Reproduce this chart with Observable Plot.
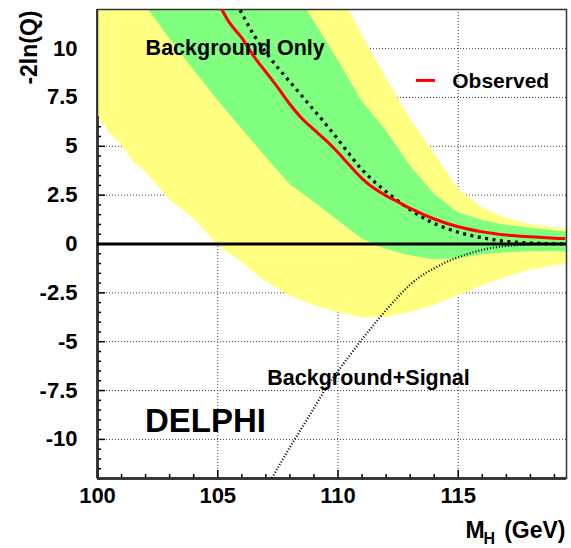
<!DOCTYPE html>
<html><head><meta charset="utf-8">
<script src="https://cdn.jsdelivr.net/npm/d3@7"></script>
<script src="https://cdn.jsdelivr.net/npm/@observablehq/plot@0.6"></script>
<style>
html,body{margin:0;padding:0;background:#fff;}
</style></head><body><div id="chart"></div>
<script>
// ---- data ----
const bandMass   = [100,100.5,101,101.5,102,102.5,103,104,105,105.5,106,107,108,109,110,110.5,111,112,113,114,115,116,117,118,119,119.5];
const yellowLow  = [6.6,5.7,5.05,4.2,3.7,3.0,2.25,1.3,-0.05,-0.5,-0.95,-1.95,-2.65,-3.15,-3.5,-3.65,-3.8,-3.75,-3.5,-3.15,-2.65,-2.15,-1.7,-1.34,-1.12,-1.05];
const yellowHigh = [34,33,32,31,30,29,28,26,24,23,22,19.9,17.6,15.3,13.0,11.85,10.7,8.5,6.4,4.65,2.8,1.85,1.3,0.98,0.82,0.78];
const greenLow   = [15.5,14.6,13.8,13.0,12.2,11.35,10.5,8.9,7.35,6.62,5.9,4.45,3.05,2.15,1.2,0.72,0.25,-0.28,-0.6,-0.8,-0.75,-0.55,-0.45,-0.4,-0.38,-0.38];
const greenHigh  = [26,25.2,24.5,23.7,23,22.2,21.5,20,18.5,17.8,17,15.4,13.4,11.4,9.4,8.35,7.3,5.8,4.0,2.55,1.6,1.2,0.95,0.8,0.68,0.62];

const obsMass  = [105,105.5,106,106.5,107,107.5,108,108.5,109,109.5,110,110.5,111,111.5,112,112.5,113,114,115,116,117,118,119,119.4];
const obsValue = [12.4,11.3,10.55,9.6,8.8,8.0,7.15,6.42,5.85,5.3,4.68,4.0,3.35,2.85,2.47,2.15,1.82,1.28,0.88,0.62,0.46,0.37,0.3,0.28];

const expMass  = [105.5,106,106.5,107,107.5,108,108.5,109,109.5,110,110.5,111,111.5,112,112.5,113,113.5,114,115,116,117,118,119,119.5];
const expValue = [13.0,11.8,10.7,9.8,9.02,8.3,7.57,6.85,6.12,5.35,4.55,3.8,3.2,2.68,2.2,1.75,1.37,1.05,0.6,0.32,0.13,0.05,0.01,0];

const sigMass  = [107,107.5,108,108.5,109,109.5,110,110.5,111,111.5,112,112.5,113,113.5,114,114.5,115,116,117,118,119,119.5];
const sigValue = [-12.5,-11.45,-10.4,-9.4,-8.4,-7.38,-6.5,-5.68,-4.87,-4.12,-3.38,-2.7,-2.08,-1.6,-1.24,-0.93,-0.68,-0.3,-0.1,-0.03,0,0];

const xTicks = [100,105,110,115];
const xMinor = [101,102,103,104,106,107,108,109,111,112,113,114,116,117,118,119];
const yTicks = [-10,-7.5,-5,-2.5,0,2.5,5,7.5,10];
const yMinor = d3.range(-11.5, 12, 0.5).filter(v => !yTicks.includes(v));
const xGrid = [105,110,115];
const yGrid = [-10,-7.5,-5,-2.5,2.5,5,7.5,10];

// ---- layout ----
const W = 571, H = 548;
const mL = 97, mR = 5, mT = 9, mB = 70;
const plotW = W - mL - mR, plotH = H - mT - mB;

const bands = bandMass.map((m, i) => ({m, yl: yellowLow[i], yh: yellowHigh[i], gl: greenLow[i], gh: greenHigh[i]}));
const obs = obsMass.map((m, i) => ({m, v: obsValue[i]}));
const exp = expMass.map((m, i) => ({m, v: expValue[i]}));
const sig = sigMass.map((m, i) => ({m, v: sigValue[i]}));

const font = "'Liberation Sans', Arial, Helvetica, sans-serif";

const chart = Plot.plot({
  width: W, height: H,
  marginLeft: mL, marginRight: mR, marginTop: mT, marginBottom: mB,
  style: {fontFamily: font, fontWeight: "bold", fontSize: "22px", background: "white", color: "black"},
  x: {domain: [100, 119.5], ticks: xTicks, tickSize: 0, tickPadding: 9, tickFormat: d => String(d), label: null},
  y: {domain: [-12, 12], ticks: yTicks, tickSize: 0, tickPadding: 20, tickFormat: d => String(d), label: null},
  marks: [
    // dotted grid
    Plot.ruleX(xGrid, {stroke: "#000", strokeOpacity: 0.75, strokeWidth: 1, strokeDasharray: "1,2"}),
    Plot.ruleY(yGrid, {stroke: "#000", strokeOpacity: 0.75, strokeWidth: 1, strokeDasharray: "1,2"}),
    // axis lines and inward ticks
    Plot.ruleX([100], {stroke: "#000", strokeWidth: 2.5}),
    Plot.ruleY([-12], {stroke: "#000", strokeWidth: 2.5}),
    Plot.tickX(xTicks, {x: d => d, insetTop: plotH - 8, stroke: "#000", strokeWidth: 1.5}),
    Plot.tickX(xMinor, {x: d => d, insetTop: plotH - 4, stroke: "#000", strokeWidth: 1.5}),
    Plot.tickY(yTicks, {y: d => d, insetRight: plotW - 8, stroke: "#000", strokeWidth: 1.5}),
    Plot.tickY(yMinor, {y: d => d, insetRight: plotW - 4, stroke: "#000", strokeWidth: 1.5}),
    // bands
    Plot.areaY(bands, {x: "m", y1: "yl", y2: "yh", fill: "#ffff80", clip: true}),
    Plot.areaY(bands, {x: "m", y1: "gl", y2: "gh", fill: "#80ff80", clip: true}),
    Plot.frame({stroke: "#333", strokeWidth: 1.5}),
    Plot.ruleY([0], {stroke: "#000", strokeWidth: 3}),
    // curves
    Plot.line(sig, {x: "m", y: "v", stroke: "#000", strokeWidth: 2.2, strokeDasharray: "1,2", strokeLinecap: "butt", curve: "catmull-rom", clip: true}),
    Plot.line(exp, {x: "m", y: "v", stroke: "#000", strokeWidth: 3.2, strokeDasharray: "3,4.5", strokeLinecap: "butt", curve: "catmull-rom", clip: true}),
    Plot.line(obs, {x: "m", y: "v", stroke: "#ff0000", strokeWidth: 3, curve: "catmull-rom", clip: true}),
    // legend
    Plot.ruleY([8.37], {x1: 113.26, x2: 114.05, stroke: "#ff0000", strokeWidth: 3}),
    Plot.text(["Observed"], {x: 114.75, y: 7.99, text: d => d, textAnchor: "start", lineAnchor: "bottom", fontSize: 21, fontWeight: "bold", fill: "#000"}),
    // annotations
    Plot.text(["Background Only"], {x: 102.0, y: 9.65, text: d => d, textAnchor: "start", lineAnchor: "bottom", fontSize: 21.5, fontWeight: "bold", fill: "#000"}),
    Plot.text(["Background+Signal"], {x: 107.06, y: -7.2, text: d => d, textAnchor: "start", lineAnchor: "bottom", fontSize: 21.5, fontWeight: "bold", fill: "#000"}),
    Plot.text(["DELPHI"], {x: 101.97, y: -9.63, text: d => d, textAnchor: "start", lineAnchor: "bottom", fontSize: 33, fontWeight: "bold", fill: "#000"}),
    // axis titles
    Plot.text(["-2ln(Q)"], {frameAnchor: "top-left", dx: -68, dy: 1, rotate: -90, text: d => d, textAnchor: "end", lineAnchor: "middle", fontSize: 23, fontWeight: "bold", fill: "#000"}),
    Plot.text(["M"], {frameAnchor: "bottom-right", dx: -101, dy: 59, text: d => d, textAnchor: "start", lineAnchor: "bottom", fontSize: 23, fontWeight: "bold", fill: "#000"}),
    Plot.text(["H"], {frameAnchor: "bottom-right", dx: -83, dy: 65.5, text: d => d, textAnchor: "start", lineAnchor: "bottom", fontSize: 16, fontWeight: "bold", fill: "#000"}),
    Plot.text(["(GeV)"], {frameAnchor: "bottom-right", dx: -1, dy: 59, text: d => d, textAnchor: "end", lineAnchor: "bottom", fontSize: 23, fontWeight: "bold", fill: "#000"})
  ]
});
document.getElementById("chart").appendChild(chart);
</script>
</body></html>
